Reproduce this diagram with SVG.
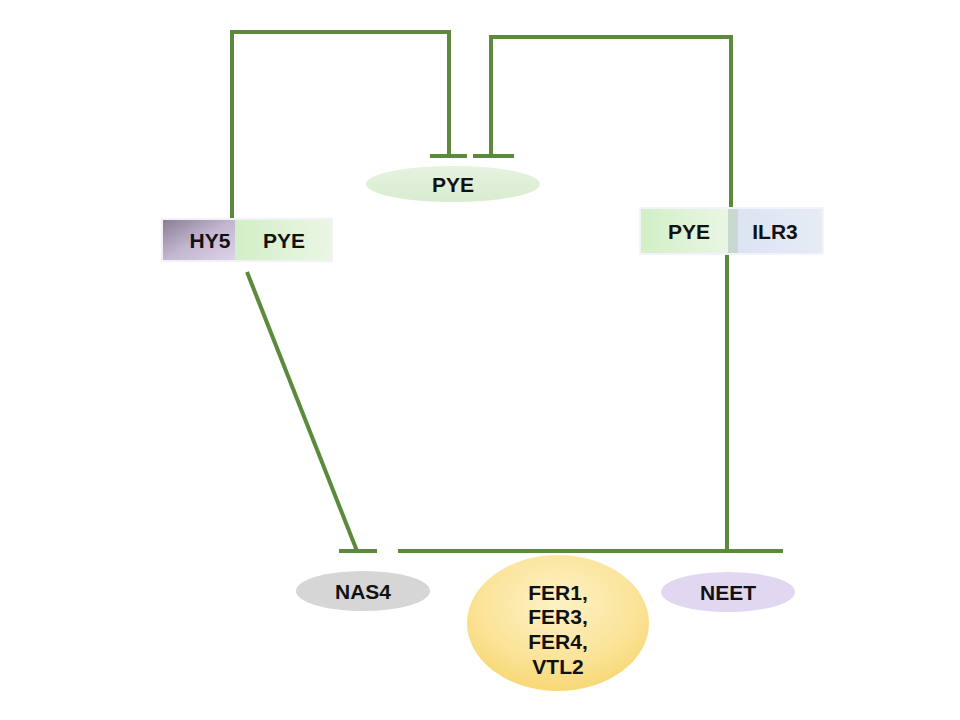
<svg xmlns="http://www.w3.org/2000/svg" width="960" height="720" viewBox="0 0 960 720">
<defs>
<style>
.ln{stroke:#5b8a3c;stroke-width:4;fill:none;stroke-linecap:butt}
.t{font-family:"Liberation Sans",Arial,sans-serif;font-weight:bold;font-size:21px;fill:#111;text-anchor:middle}
</style>
<linearGradient id="gHy5" x1="0" y1="0" x2="1" y2="1">
<stop offset="0" stop-color="#8a7d96"/><stop offset="0.5" stop-color="#c3b6d0"/><stop offset="1" stop-color="#ddd3e8"/>
</linearGradient>
<linearGradient id="gPye" x1="0" y1="0" x2="1" y2="0">
<stop offset="0" stop-color="#d2efc6"/><stop offset="1" stop-color="#eaf6e4"/>
</linearGradient>
<linearGradient id="gIlr" x1="0" y1="0" x2="1" y2="0">
<stop offset="0" stop-color="#dde3f2"/><stop offset="1" stop-color="#e6ebf6"/>
</linearGradient>
<radialGradient id="gFer" cx="0.5" cy="0.35" r="0.7">
<stop offset="0" stop-color="#fdf2c6"/><stop offset="0.6" stop-color="#fbe49a"/><stop offset="1" stop-color="#f7d56e"/>
</radialGradient>
<linearGradient id="gPyeE" x1="0" y1="0" x2="0" y2="1">
<stop offset="0" stop-color="#e6f3df"/><stop offset="1" stop-color="#d8ecd0"/>
</linearGradient>
</defs>
<rect width="960" height="720" fill="#fff"/>
<g id="connectors">
<polyline class="ln" points="232,218 232,32 449,32 449,156"/>
<line class="ln" x1="430" y1="156" x2="467" y2="156"/>
<polyline class="ln" points="731,208 731,37 491,37 491,156"/>
<line class="ln" x1="473" y1="156" x2="514" y2="156"/>
<line class="ln" x1="247" y1="272" x2="357" y2="551"/>
<line class="ln" x1="339" y1="551" x2="377" y2="551"/>
<line class="ln" x1="398" y1="551" x2="783" y2="551"/>
<line class="ln" x1="727" y1="254" x2="727" y2="551"/>
</g>
<g id="hy5-pye">
<rect x="161" y="218" width="172" height="44" fill="#f4f0f8"/>
<rect x="163" y="220" width="72" height="40" fill="url(#gHy5)"/>
<rect x="235" y="220" width="96" height="40" fill="url(#gPye)"/>
<text class="t" x="210" y="248">HY5</text>
<text class="t" x="284" y="248">PYE</text>
</g>
<g id="pye">
<ellipse cx="453" cy="184" rx="87" ry="18" fill="url(#gPyeE)"/>
<text class="t" x="453" y="192">PYE</text>
</g>
<g id="pye-ilr3">
<rect x="639" y="207" width="185" height="48" fill="#f1f4fa"/>
<rect x="641" y="209" width="87" height="44" fill="url(#gPye)"/>
<rect x="728" y="209" width="10" height="44" fill="#cad9d0"/>
<rect x="738" y="209" width="84" height="44" fill="url(#gIlr)"/>
<text class="t" x="689" y="239">PYE</text>
<text class="t" x="775" y="239">ILR3</text>
</g>
<g id="nas4">
<ellipse cx="363" cy="591" rx="67" ry="20" fill="#d6d6d6"/>
<text class="t" x="363" y="599">NAS4</text>
</g>
<g id="fer">
<ellipse cx="558" cy="623" rx="91" ry="68" fill="url(#gFer)"/>
<text class="t" x="558" y="600">FER1,</text>
<text class="t" x="558" y="624">FER3,</text>
<text class="t" x="558" y="649">FER4,</text>
<text class="t" x="558" y="674">VTL2</text>
</g>
<g id="neet">
<ellipse cx="728" cy="592" rx="67" ry="20" fill="#e0d8f0"/>
<text class="t" x="728" y="600">NEET</text>
</g>
</svg>
